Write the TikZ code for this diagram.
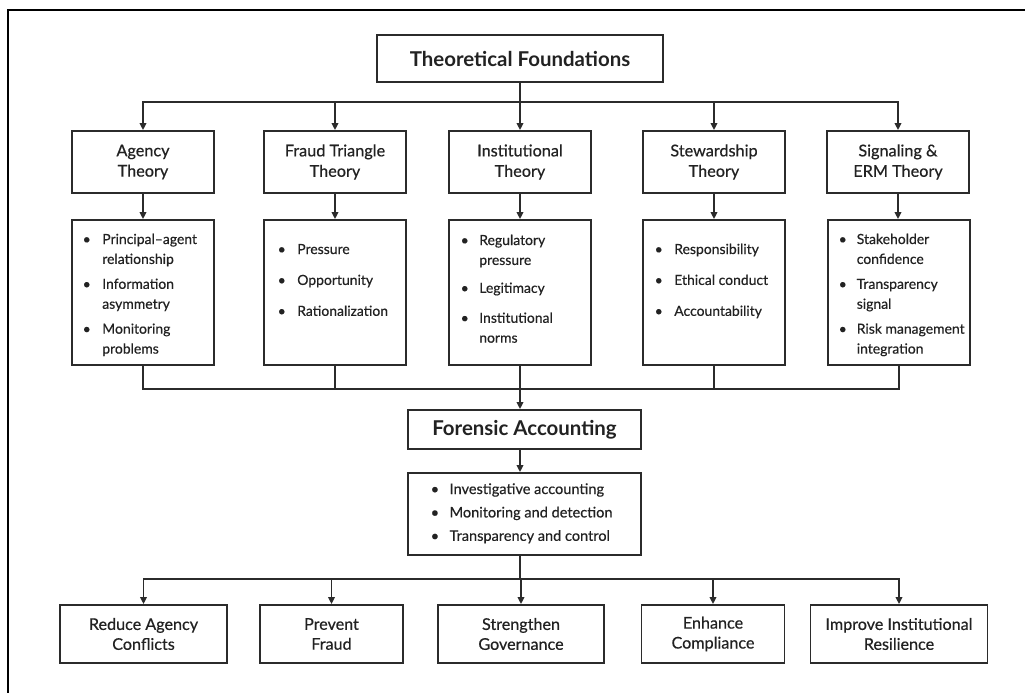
\documentclass[tikz,border=0pt]{standalone}
\usepackage{fontspec}
\setmainfont{Lato}
\newfontfamily\medfont{Lato}[FakeBold=0.5]
\newfontfamily\listfont{Lato}[FakeBold=0.4]
\usetikzlibrary{arrows.meta}

\definecolor{linegray}{HTML}{2B2B2B}
\definecolor{txt}{HTML}{222222}

\begin{document}
\begin{tikzpicture}[x=1bp,y=-1bp,
  box/.style={draw=linegray, line width=1.8bp, inner sep=0pt, fill=white, text=txt},
  head/.style={box, font=\fontsize{20.5}{24}\selectfont\bfseries},
  theory/.style={box, minimum width=142bp, minimum height=62bp, align=center,
                 font=\medfont\fontsize{16.3}{20.5}\selectfont},
  detail/.style={box, minimum width=142bp, minimum height=145bp},
  outcome/.style={box, minimum height=58bp, align=center,
                  font=\medfont\fontsize{16.2}{20}\selectfont},
  list/.style={inner sep=0pt, anchor=base west, text=txt,
               font=\listfont\fontsize{14}{20}\selectfont},
  link/.style={line width=1.8bp, draw=linegray},
  arr/.style={link, -{Triangle[length=7bp,width=6.5bp]}},
]
\useasboundingbox (0,0) rectangle (1025,693);

% page frame (top and left edges)
\draw[line width=2bp, black] (1025,10.5) -- (7.5,10.5) -- (7.5,693);

% bus levels
\coordinate (busTop) at (0,102);
\coordinate (busMid) at (0,389);
\coordinate (busBot) at (0,579);

% title
\node[head, minimum width=286bp, minimum height=47bp] (tf) at (520,58.5) {Theoretical Foundations};

% theories
\node[theory] (at) at (143,162) {Agency\\Theory};
\node[theory] (ft) at (335,162) {Fraud Triangle\\Theory};
\node[theory] (it) at (520,162) {Institutional\\Theory};
\node[theory] (st) at (714,162) {Stewardship\\Theory};
\node[theory] (sg) at (898,162) {Signaling \&\\ERM Theory};

% detail boxes
\node[detail] (ad) at (143,292.5) {};
\node[detail] (fd) at (335,292.5) {};
\node[detail] (id) at (520,292.5) {};
\node[detail] (sd) at (714,292.5) {};
\node[detail] (gd) at (899,292.5) {};

\node[list] (adl) at (82.5,244) {\begin{tabular}[t]{@{}l@{\hspace{11.5bp}}l@{}}
\textbullet & Principal–agent\\ & relationship\\[5bp]
\textbullet & Information\\ & asymmetry\\[5bp]
\textbullet & Monitoring\\ & problems
\end{tabular}};
\node[list] (fdl) at (277.5,254) {\begin{tabular}[t]{@{}l@{\hspace{11.5bp}}l@{}}
\textbullet & Pressure\\[11bp]
\textbullet & Opportunity\\[11bp]
\textbullet & Rationalization
\end{tabular}};
\node[list] (idl) at (460.5,245) {\begin{tabular}[t]{@{}l@{\hspace{10.5bp}}l@{}}
\textbullet & Regulatory\\ & pressure\\[8bp]
\textbullet & Legitimacy\\[10bp]
\textbullet & Institutional\\ & norms
\end{tabular}};
\node[list] (sdl) at (654.5,254) {\begin{tabular}[t]{@{}l@{\hspace{11.5bp}}l@{}}
\textbullet & Responsibility\\[11bp]
\textbullet & Ethical conduct\\[11bp]
\textbullet & Accountability
\end{tabular}};
\node[list] (gdl) at (838.5,244) {\begin{tabular}[t]{@{}l@{\hspace{10bp}}l@{}}
\textbullet & Stakeholder\\ & confidence\\[5bp]
\textbullet & Transparency\\ & signal\\[5bp]
\textbullet & Risk management\\ & integration
\end{tabular}};

% forensic accounting
\node[head, minimum width=233bp, minimum height=39bp] (fa) at (524.5,429.5) {Forensic Accounting};
\node[box, minimum width=233bp, minimum height=82bp] (fl) at (524.5,514) {};
\node[list, font=\listfont\fontsize{14.6}{20}\selectfont] (fll) at (430.5,494)
 {\begin{tabular}[t]{@{}l@{\hspace{10.5bp}}l@{}}
\textbullet & Investigative accounting\\[3.5bp]
\textbullet & Monitoring and detection\\[3.5bp]
\textbullet & Transparency and control
\end{tabular}};

% outcomes
\node[outcome, minimum width=167bp] (ro) at (143.5,634) {Reduce Agency\\Conflicts};
\node[outcome, minimum width=143bp] (pf) at (331.5,634) {Prevent\\Fraud};
\node[outcome, minimum width=166bp] (sgv) at (521,634) {Strengthen\\Governance};
\node[outcome, minimum width=143bp] (ec) at (713,634) {Enhance\\Compliance};
\node[outcome, minimum width=177bp] (ir) at (899,634) {Improve Institutional\\Resilience};

% title to theories
\draw[link] (tf.south) -- (tf.south |- busTop);
\draw[link, line cap=rect] (at.north |- busTop) -- (sg.north |- busTop);
\foreach \n in {at,ft,it,st,sg}
  \draw[arr] (\n.north |- busTop) -- (\n.north);

% theories to their details
\foreach \a/\b in {at/ad,ft/fd,it/id,st/sd,sg/gd}
  \draw[arr] (\a.south) -- (\a.south |- \b.north);

% details gathered into forensic accounting
\draw[link] (ad.south) |- (gd.south |- busMid) -- (gd.south);
\foreach \n in {fd,sd}
  \draw[link] (\n.south) -- (\n.south |- busMid);
\draw[arr] (id.south) -- (id.south |- fa.north);
\draw[arr] (id.south |- fa.south) -- (id.south |- fl.north);

% forensic accounting to outcomes
\draw[link] (id.south |- fl.south) -- (id.south |- busBot);
\draw[link, line cap=rect] (ro.north |- busBot) -- (ir.north |- busBot);
\foreach \n in {ro,pf,sgv,ec,ir}
  \draw[arr] (\n.north |- busBot) -- (\n.north);
\end{tikzpicture}
\end{document}
